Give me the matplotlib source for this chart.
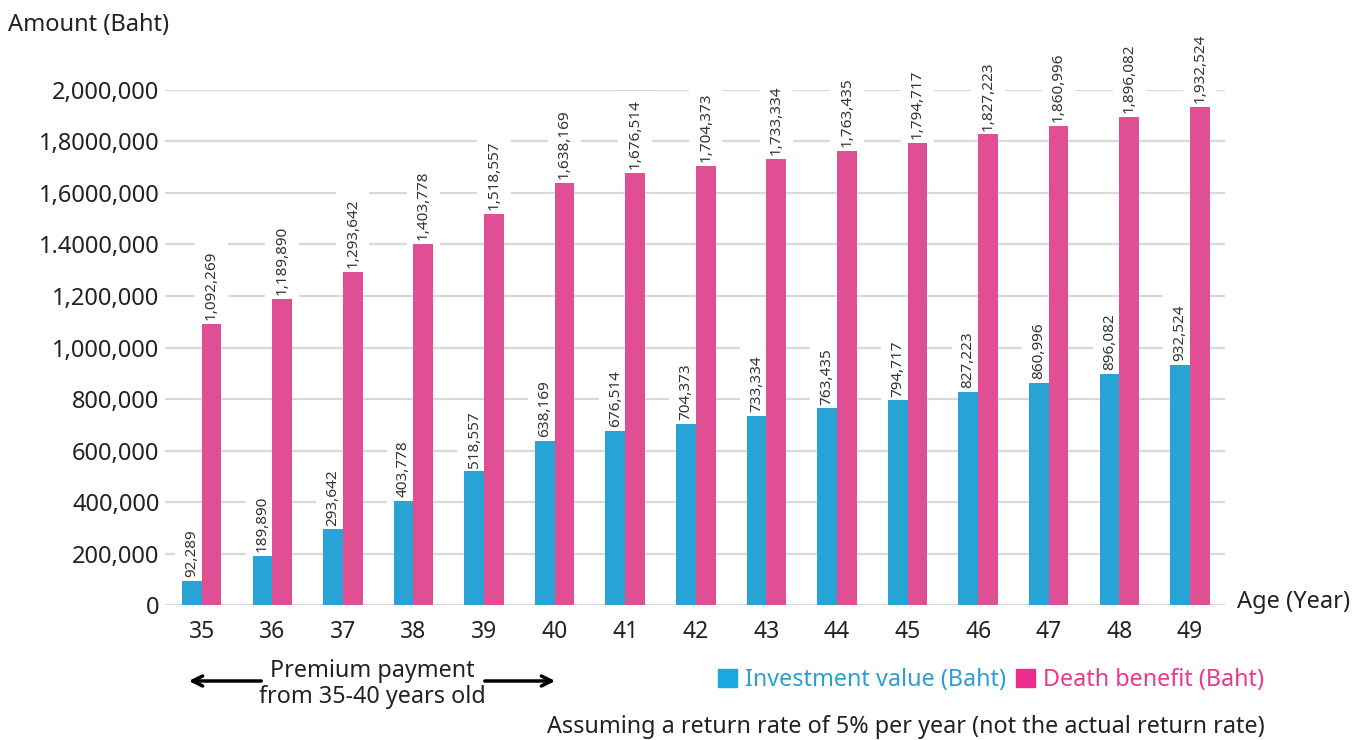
import numpy as np
import matplotlib
matplotlib.use("Agg")
import matplotlib.pyplot as plt
from matplotlib.patches import Patch

plt.rcParams['font.family'] = ['Noto Sans', 'DejaVu Sans']

# data
ages = [35, 36, 37, 38, 39, 40, 41, 42, 43, 44, 45, 46, 47, 48, 49]
investment_value = [92289, 189890, 293642, 403778, 518557, 638169, 676514, 704373,
                    733334, 763435, 794717, 827223, 860996, 896082, 932524]
death_benefit = [1092269, 1189890, 1293642, 1403778, 1518557, 1638169, 1676514, 1704373,
                 1733334, 1763435, 1794717, 1827223, 1860996, 1896082, 1932524]
y_ticks = [0, 200000, 400000, 600000, 800000, 1000000, 1200000, 1400000, 1600000, 1800000, 2000000]
y_tick_labels = ['0', '200,000', '400,000', '600,000', '800,000', '1,000,000', '1,200,000',
                 '1.4000,000', '1,6000,000', '1,8000,000', '2,000,000']

blue = '#27a3d6'
pink = '#e04e94'
text_color = '#222222'
fs = 16.8

fig = plt.figure(figsize=(13.68, 7.4), dpi=100)
ax = fig.add_axes([0.1206, 0.1824, 0.775, 0.696])

x = np.arange(len(ages))
w = 0.28
ax.bar(x - w / 2, investment_value, width=w, color=blue, zorder=3)
ax.bar(x + w / 2, death_benefit, width=w, color=pink, zorder=3)

# rotated value labels with white box so gridlines break behind them
for xi, v in zip(x - w / 2, investment_value):
    ax.text(xi, v + 15000, f'{v:,}', rotation=90, ha='center', va='bottom', fontsize=11,
            color='#333333', zorder=2.5, clip_on=False,
            bbox=dict(boxstyle='square,pad=0.6', fc='white', ec='none'))
for xi, v in zip(x + w / 2, death_benefit):
    ax.text(xi, v + 15000, f'{v:,}', rotation=90, ha='center', va='bottom', fontsize=11,
            color='#333333', zorder=2.5, clip_on=False,
            bbox=dict(boxstyle='square,pad=0.6', fc='white', ec='none'))

ax.set_xlim(-0.52, 14.5)
ax.set_ylim(0, 2000000)
ax.set_yticks(y_ticks)
ax.set_yticklabels(y_tick_labels)
ax.set_xticks(x)
ax.set_xticklabels([str(a) for a in ages])
ax.tick_params(axis='both', length=0, colors=text_color)
ax.tick_params(axis='y', pad=4, labelsize=17)
ax.tick_params(axis='x', pad=11, labelsize=16.5)
ax.yaxis.grid(True, color='#d9d9d9', lw=1.6, zorder=0)
ax.set_axisbelow(True)
for s in ax.spines.values():
    s.set_visible(False)

fig.text(8 / 1368, 1 - 25 / 740, 'Amount (Baht)', fontsize=17, color=text_color, va='center', ha='left')
fig.text(1237 / 1368, 1 - 602 / 740, 'Age (Year)', fontsize=17, color=text_color, va='center', ha='left')

# premium payment period with arrows
fig.text(372 / 1368, 1 - 684 / 740, 'Premium payment\nfrom 35-40 years old', fontsize=fs,
         color=text_color, ha='center', va='center', linespacing=1.1)
ax.annotate('', xy=(186 / 1368, 1 - 681 / 740), xytext=(264 / 1368, 1 - 681 / 740),
            xycoords='figure fraction', textcoords='figure fraction',
            arrowprops=dict(arrowstyle='->', lw=2.5, color='black', mutation_scale=18))
ax.annotate('', xy=(558 / 1368, 1 - 681 / 740), xytext=(482 / 1368, 1 - 681 / 740),
            xycoords='figure fraction', textcoords='figure fraction',
            arrowprops=dict(arrowstyle='->', lw=2.5, color='black', mutation_scale=18))

# legend
handles = [Patch(color='#1aa8e0'), Patch(color='#ec2c8c')]
fig.legend(handles, ['Investment value (Baht)', 'Death benefit (Baht)'],
           loc='center', bbox_to_anchor=(991 / 1368, 1 - 680 / 740), ncol=2, frameon=False,
           fontsize=fs, handlelength=0.8, handleheight=0.8, handletextpad=0.35,
           columnspacing=0.45, labelcolor=['#2a9fd6', '#e8388f'])

fig.text(1265 / 1368, 1 - 727 / 740,
         'Assuming a return rate of 5% per year (not the actual return rate)',
         fontsize=fs, color=text_color, ha='right', va='center')

fig.savefig('out.png', dpi=100)
